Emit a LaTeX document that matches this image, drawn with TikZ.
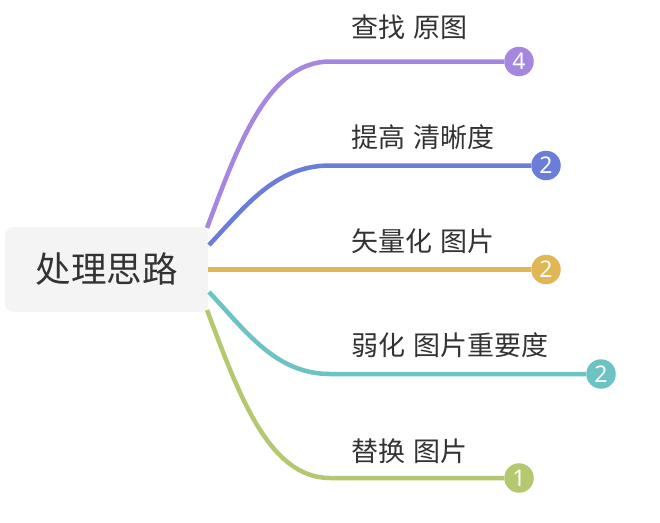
\documentclass[tikz,border=0pt]{standalone}
\usepackage{fontspec}
\setmainfont{Noto Sans CJK SC}
\newfontfamily\numfont{Noto Sans}
\definecolor{rootgray}{HTML}{F4F4F4}
\definecolor{textc}{HTML}{333333}
\definecolor{cpurple}{HTML}{A587E0}
\definecolor{cblue}{HTML}{6A7DD8}
\definecolor{cyellow}{HTML}{E1B654}
\definecolor{cteal}{HTML}{6CC3C3}
\definecolor{cgreen}{HTML}{B4C870}
\begin{document}
\begin{tikzpicture}[x=1pt,y=-1pt,
  rootbox/.style={fill=rootgray, rounded corners=8pt, minimum width=203pt, minimum height=85pt, inner sep=0pt, font=\fontsize{35.5}{36}\selectfont, text=textc},
  lbl/.style={anchor=base west, inner sep=0pt, font=\fontsize{27}{27}\selectfont, text=textc},
  badge/.style={circle, minimum size=29.5pt, inner sep=0pt, text=white, font=\numfont\fontsize{23}{23}\selectfont},
  branch/.style={line width=4.5pt}]
\useasboundingbox (0,0) rectangle (660,522);
\node[rootbox] (root) at (106.5,269.5) {处理思路};
% badges
\node[badge, fill=cpurple] (b1) at (519,61.5) {4};
\node[badge, fill=cblue] (b2) at (546,165.5) {2};
\node[badge, fill=cyellow] (b3) at (546,269.5) {2};
\node[badge, fill=cteal] (b4) at (601,374) {2};
\node[badge, fill=cgreen] (b5) at (519,478) {1};
% labels
\node[lbl] (t1) at (351,37) {查找\hspace{0.3em}原图};
\node[lbl] (t2) at (351,147) {提高\hspace{0.3em}清晰度};
\node[lbl] (t3) at (351,251) {矢量化\hspace{0.3em}图片};
\node[lbl] (t4) at (351,355) {弱化\hspace{0.3em}图片重要度};
\node[lbl] (t5) at (351,461) {替换\hspace{0.3em}图片};
% start and bend coordinates
\coordinate (s1) at (207,228);
\coordinate (s2) at (209,245);
\coordinate (s3) at (208,269.5);
\coordinate (s4) at (209,292);
\coordinate (s5) at (207,310);
\coordinate (k1) at (330,61.5);
\coordinate (k2) at (330,165.5);
\coordinate (k4) at (330,374);
\coordinate (k5) at (330,478);
% branches
\draw[branch, cpurple] (s1) .. controls (238,145) and (268,61.5) .. (k1) -- (b1.west);
\draw[branch, cblue] (s2) .. controls (245,207) and (275,165.5) .. (k2) -- (b2.west);
\draw[branch, cyellow] (s3) -- (b3.west);
\draw[branch, cteal] (s4) .. controls (245,330) and (275,374) .. (k4) -- (b4.west);
\draw[branch, cgreen] (s5) .. controls (238,392) and (268,478) .. (k5) -- (b5.west);
\end{tikzpicture}
\end{document}
